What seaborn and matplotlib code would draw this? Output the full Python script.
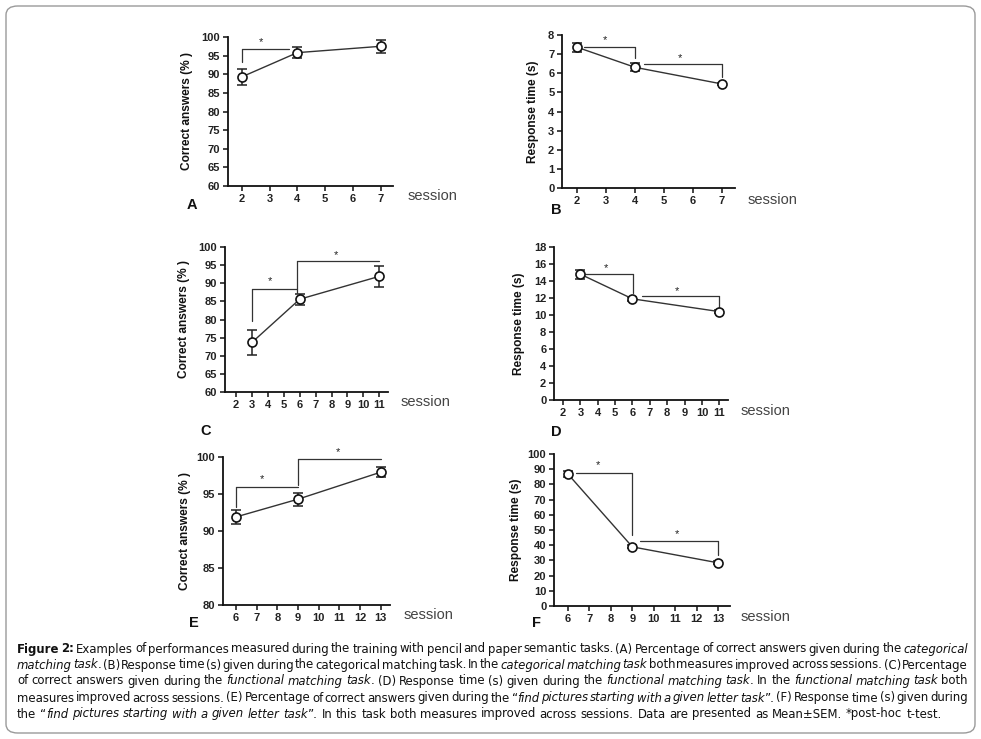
import matplotlib.pyplot as plt
import seaborn as sns
import pandas as pd
from matplotlib.patches import FancyBboxPatch

sns.set_style("ticks")
plt.rcParams['font.family'] = ['Liberation Sans', 'DejaVu Sans']

W, H = 981, 739

# ---- data (mean, SEM) ----
a_sessions = [2, 4, 7]
a_mean = [89.3, 95.8, 97.5]
a_sem = [2.2, 1.5, 1.8]

b_sessions = [2, 4, 7]
b_mean = [7.36, 6.31, 5.44]
b_sem = [0.24, 0.2, 0.07]

c_sessions = [3, 6, 11]
c_mean = [73.7, 85.6, 91.9]
c_sem = [3.5, 1.5, 2.8]

d_sessions = [3, 6, 11]
d_mean = [14.8, 11.9, 10.4]
d_sem = [0.53, 0.2, 0.15]

e_sessions = [6, 9, 13]
e_mean = [91.9, 94.3, 97.95]
e_sem = [1.0, 0.88, 0.67]

f_sessions = [6, 9, 13]
f_mean = [86.8, 38.9, 28.4]
f_sem = [1.8, 1.0, 1.0]

# significance brackets: (x0, x1, y_top, left_drop_to, right_drop_to, star_x, star_y)
a_brackets = [(2, 3.69, 96.7, 93.3, None, 2.69, 98.7)]
b_brackets = [(2.23, 4, 7.39, None, 6.78, 2.98, 7.74),
              (4.3, 7, 6.47, None, 5.83, 5.54, 6.78)]
c_brackets = [(3, 5.85, 88.5, 79.5, None, 4.15, 90.5),
              (5.85, 11, 96.0, 87.3, None, 8.26, 97.9)]
d_brackets = [(3.25, 6.04, 14.82, None, 12.58, 4.5, 15.5),
              (6.52, 11, 12.19, None, 11.0, 8.54, 12.85)]
e_brackets = [(6, 9, 95.94, 93.3, None, 7.26, 97.0),
              (9, 13, 99.77, 96.25, None, 10.93, 100.6)]
f_brackets = [(6.39, 9, 87.3, None, 46.6, 7.42, 92.7),
              (9.36, 13, 42.9, None, 33.4, 11.06, 47.0)]

pct_label = "Correct answers (% )"
rt_label = "Response time (s)"

fig = plt.figure(figsize=(W / 100, H / 100), dpi=100)


def box(left, top, right, bottom):
    return [left / W, 1 - bottom / H, (right - left) / W, (bottom - top) / H]


def panel(rect, xs, mean, sem, xlim, xticks, ylim, yticks, ylabel, label_px,
          brackets, letter, letter_px, session_px):
    ax = fig.add_axes(box(*rect))
    df = pd.DataFrame({"session": xs, "value": mean})
    ax.errorbar(xs, mean, yerr=sem, fmt='none', ecolor='#222222', elinewidth=1.1,
                capsize=3.5, capthick=1.1, zorder=2)
    sns.lineplot(data=df, x="session", y="value", ax=ax, color='#333333', linewidth=1,
                 marker='o', markersize=6.5, markerfacecolor='white',
                 markeredgecolor='#111111', markeredgewidth=1.2, zorder=3)
    for x0, x1, yt, ld, rd, sx, sy in brackets:
        ax.plot([x0, x1], [yt, yt], color='#333333', lw=0.9, clip_on=False)
        if ld is not None:
            ax.plot([x0, x0], [ld, yt], color='#333333', lw=0.9, clip_on=False)
        if rd is not None:
            ax.plot([x1, x1], [rd, yt], color='#333333', lw=0.9, clip_on=False)
        ax.text(sx, sy, "*", ha='center', va='center', fontsize=8, color='#222222',
                clip_on=False)
    ax.set_xlim(*xlim)
    ax.set_ylim(*ylim)
    ax.set_xticks(xticks)
    ax.set_yticks(yticks)
    ax.set_xlabel("")
    ax.set_ylabel(ylabel, fontsize=8.6, fontweight='bold', color='#111111')
    ax.yaxis.set_label_coords((label_px - rect[0]) / (rect[2] - rect[0]), 0.5)
    sns.despine(ax=ax)
    for s in ("left", "bottom"):
        ax.spines[s].set_linewidth(1.3)
        ax.spines[s].set_color('#111111')
    ax.tick_params(length=3.5, width=1.1, color='#111111', labelsize=8, pad=2,
                   labelcolor='#222222')
    for t in ax.get_xticklabels() + ax.get_yticklabels():
        t.set_fontweight('bold')
    fig.text(session_px[0] / W, 1 - session_px[1] / H, "session", fontsize=10.5,
             color='#444444', ha='left', va='center')
    fig.text(letter_px[0] / W, 1 - letter_px[1] / H, letter, fontsize=10.5,
             fontweight='bold', color='#111111', ha='left', va='center')
    return ax


panel((228, 37, 393, 186), a_sessions, a_mean, a_sem, (1.5, 7.45), range(2, 8),
      (60, 100), range(60, 101, 5), pct_label, 193, a_brackets, "A", (187, 205), (408, 196))
panel((562, 35, 735, 188), b_sessions, b_mean, b_sem, (1.48, 7.45), range(2, 8),
      (0, 8), range(0, 9), rt_label, 539, b_brackets, "B", (551, 210), (748, 200))
panel((225, 247, 388, 392), c_sessions, c_mean, c_sem, (1.3, 11.55), range(2, 12),
      (60, 100), range(60, 101, 5), pct_label, 190, c_brackets, "C", (200, 431), (401, 402))
panel((554, 247, 728, 400), d_sessions, d_mean, d_sem, (1.48, 11.5), range(2, 12),
      (0, 18), range(0, 19, 2), rt_label, 525, d_brackets, "D", (551, 432), (741, 411))
panel((223, 457, 390, 605), e_sessions, e_mean, e_sem, (5.37, 13.45), range(6, 14),
      (80, 100), range(80, 101, 5), pct_label, 191, e_brackets, "E", (189, 623), (404, 615))
panel((554, 454, 730, 606), f_sessions, f_mean, f_sem, (5.35, 13.55), range(6, 14),
      (0, 100), range(0, 101, 10), rt_label, 522, f_brackets, "F", (532, 623), (741, 617))

# ---- outer rounded frame ----
fig.patches.append(FancyBboxPatch((6 / W, 6 / H), 969 / W, 727 / H,
                                  boxstyle="round,pad=0,rounding_size=0.012",
                                  transform=fig.transFigure, facecolor='none',
                                  edgecolor='#9a9a9a', linewidth=1.0))

# ---- caption, justified, with italic {..} and bold [..] runs ----
caption = [
    "[Figure 2:] Examples of performances measured during the training with pencil and paper semantic tasks. (A) Percentage of correct answers given during the {categorical}",
    "{matching task}. (B) Response time (s) given during the categorical matching task. In the {categorical matching task} both measures improved across sessions. (C) Percentage",
    "of correct answers given during the {functional matching task}. (D) Response time (s) given during the {functional matching task}. In the {functional matching task} both",
    "measures improved across sessions. (E) Percentage of correct answers given during the \u201c{find pictures starting with a given letter task}\u201d. (F) Response time (s) given during",
    "the \u201c{find pictures starting with a given letter task}\u201d. In this task both measures improved across sessions. Data are presented as Mean\u00b1SEM. *post-hoc t-test.",
]
cap_font = ['DejaVu Sans']
cap_size = 9.35
line_y = [649, 665, 681, 698, 714]
x_left, x_right = 17, 968
space = 3.8  # px, plain word gap for the last (ragged) line

renderer = fig.canvas.get_renderer()


def parse(line):
    words, state = [], {"i": False, "b": False}
    for raw in line.split(" "):
        pieces, buf = [], ""
        for ch in raw:
            if ch in "{}[]":
                if buf:
                    pieces.append((buf, state["i"], state["b"]))
                    buf = ""
                if ch == "{":
                    state["i"] = True
                elif ch == "}":
                    state["i"] = False
                elif ch == "[":
                    state["b"] = True
                else:
                    state["b"] = False
            else:
                buf += ch
        if buf:
            pieces.append((buf, state["i"], state["b"]))
        words.append(pieces)
    return words


for k, line in enumerate(caption):
    words = parse(line)
    y = 1 - line_y[k] / H
    placed = []
    for pieces in words:
        ws = []
        for txt, it, bd in pieces:
            t = fig.text(0, y, txt, fontsize=cap_size, family=cap_font, stretch='condensed',
                         style='oblique' if it else 'normal',
                         weight='bold' if bd else 'normal', color='#111111',
                         ha='left', va='center')
            ws.append((t, t.get_window_extent(renderer).width))
        placed.append(ws)
    total = sum(w for ws in placed for _, w in ws)
    if k < len(caption) - 1:
        gap = (x_right - x_left - total) / (len(placed) - 1)
    else:
        gap = space
    x = x_left
    for ws in placed:
        for t, w in ws:
            t.set_x(x / W)
            x += w
        x += gap

fig.savefig("out.png", dpi=100)
